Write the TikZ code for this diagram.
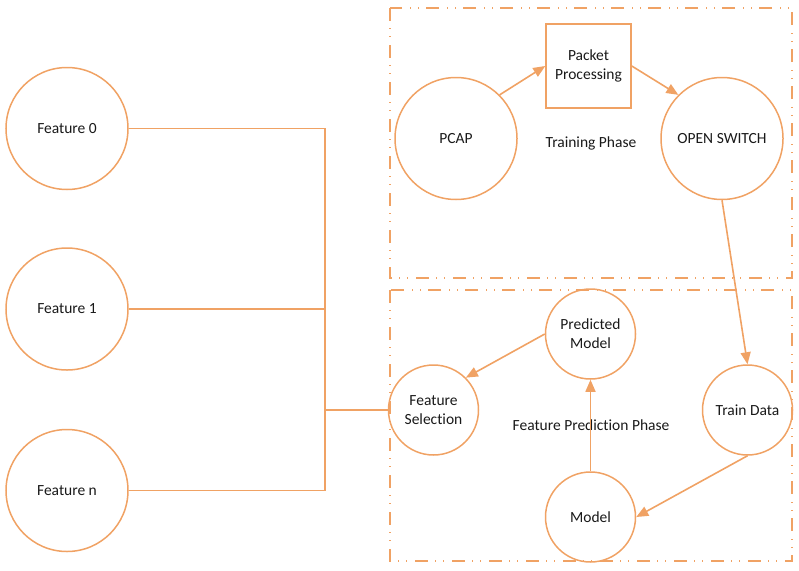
\documentclass[tikz,border=0pt]{standalone}
\usepackage{fontspec}
\setmainfont[Ligatures={NoCommon}]{Carlito}
\usetikzlibrary{arrows.meta}
\definecolor{orl}{RGB}{240,162,100}
\definecolor{txt}{RGB}{25,25,25}
\tikzset{
  circ/.style={circle, draw=orl, line width=1.5pt, inner sep=0pt, text=txt, align=center,
    font=\fontsize{15.5}{19}\selectfont},
  bigc/.style={circ, minimum size=122pt},
  smallc/.style={circ, minimum size=90pt},
  procbox/.style={rectangle, draw=orl, line width=1.5pt, inner sep=0pt, text=txt, align=center,
    minimum width=85pt, minimum height=84pt, font=\fontsize{15.5}{19}\selectfont},
  conn/.style={draw=orl, line width=1.6pt},
  arr/.style={conn, -{Triangle[length=12pt,width=10pt]}},
  phasebox/.style={draw=orl, line width=1.5pt,
    dash pattern=on 13pt off 7pt on 1.2pt off 7pt on 1.2pt off 7.6pt},
  lbl/.style={text=txt, font=\fontsize{15.5}{19}\selectfont, inner sep=0pt}
}
\begin{document}
\begin{tikzpicture}[x=1pt,y=-1pt]
\useasboundingbox (0,0) rectangle (799,570);
% phase frames
\draw[phasebox] (390,8) rectangle (792,278);
\draw[phasebox] (390,290) rectangle (792,561);
% feature circles
\node[bigc] (f0) at (67,128.5) {Feature 0};
\node[bigc] (f1) at (67,309) {Feature 1};
\node[bigc] (fn) at (67,490.5) {Feature n};
% training phase
\node[bigc] (pcap) at (456,138.5) {PCAP};
\node[procbox] (pp) at (588.5,66) {Packet\\Processing};
\node[bigc] (os) at (722,138.5) {OPEN SWITCH};
\node[lbl] (tp) at (591,143) {Training Phase};
% prediction phase
\node[smallc] (pm) at (590.5,334) {Predicted\\Model};
\node[smallc] (fs) at (433.5,410) {Feature\\Selection};
\node[smallc] (td) at (747.5,410) {Train Data};
\node[smallc] (md) at (590.5,517) {Model};
\node[lbl] (fpp) at (591,425) {Feature Prediction Phase};
% bus
\coordinate (j0) at (325,128.5);
\coordinate (j1) at (325,309);
\coordinate (jn) at (325,490.5);
\coordinate (jm) at (325,410);
\draw[conn] (f0.east) -- (j0) -- (jn) -- (fn.east);
\draw[conn] (f1.east) -- (j1);
\draw[conn] (jm) -- (fs.west);
% arrows
\draw[arr] (pcap.north east) -- (pp.west);
\draw[arr] (pp.east) -- (os.north west);
\draw[arr] (os.south) -- (td.north);
\draw[arr] (td.south) -- (md.east);
\draw[arr] (md.north) -- (pm.south);
\draw[arr] (pm.west) -- (fs.north east);
\end{tikzpicture}
\end{document}
